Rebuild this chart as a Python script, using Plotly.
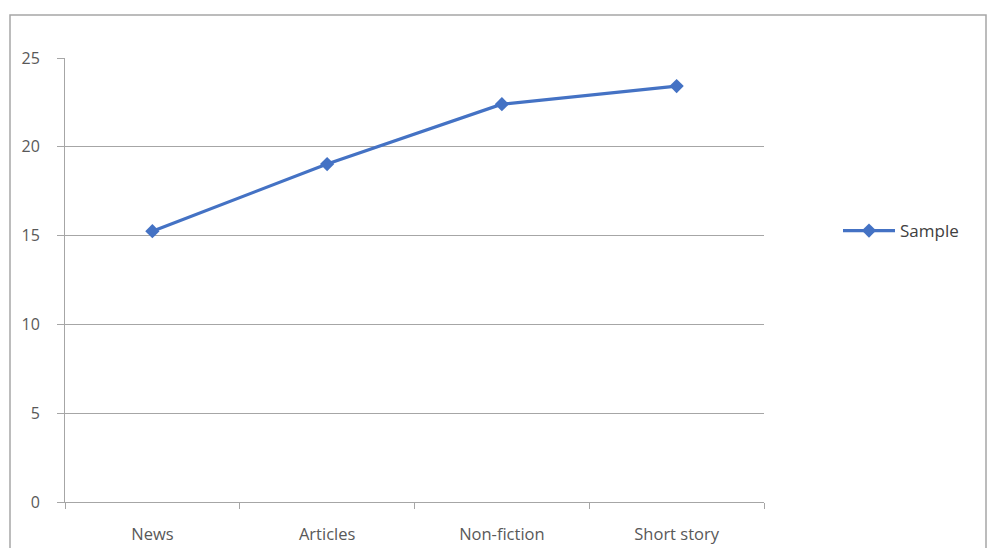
import plotly.graph_objects as go

categories = ["News", "Articles", "Non-fiction", "Short story"]
sample = [15.25, 19.03, 22.4, 23.42]
y_ticks = [0, 5, 10, 15, 20, 25]

L, R, T, B = 65, 223, 58, 46
W, H = 987, 548
pw, ph = W - L - R, H - T - B

def px_x(x):
    return (x - L) / pw

def px_y(y):
    return (H - B - y) / ph

fig = go.Figure()
fig.add_trace(go.Scatter(
    x=categories, y=sample, mode="lines+markers", name="Sample",
    line=dict(color="#4472C4", width=3.2),
    marker=dict(symbol="diamond", size=11, color="#4472C4"),
))

fig.update_layout(
    width=W, height=H,
    margin=dict(l=L, r=R, t=T, b=B, autoexpand=False),
    paper_bgcolor="white", plot_bgcolor="white",
    font=dict(family="Open Sans", color="#595959", size=16),
    showlegend=True,
    legend=dict(x=px_x(838), y=px_y(231), xanchor="left", yanchor="middle",
                itemwidth=52,
                font=dict(size=17, color="#404040"), bgcolor="rgba(0,0,0,0)"),
    xaxis=dict(type="category", tickson="boundaries", ticks="outside", ticklen=6,
               tickcolor="#a6a6a6", showline=True, linecolor="#a6a6a6", linewidth=1,
               showgrid=False, ticklabelstandoff=17, tickfont=dict(size=16.5),
               range=[-0.5, 3.5], automargin=False),
    yaxis=dict(range=[0, 25], tickvals=y_ticks, ticks="outside", ticklen=7,
               tickcolor="#a6a6a6", showline=True, linecolor="#a6a6a6", linewidth=1,
               showgrid=True, gridcolor="#a6a6a6", gridwidth=1, zeroline=False,
               ticklabelstandoff=14, tickfont=dict(size=16), automargin=False),
    shapes=[dict(type="rect", xref="paper", yref="paper",
                 x0=px_x(10), x1=px_x(986), y0=px_y(560), y1=px_y(15),
                 line=dict(color="#a6a6a6", width=1.5), layer="below")],
)

fig.write_html("out.html")
